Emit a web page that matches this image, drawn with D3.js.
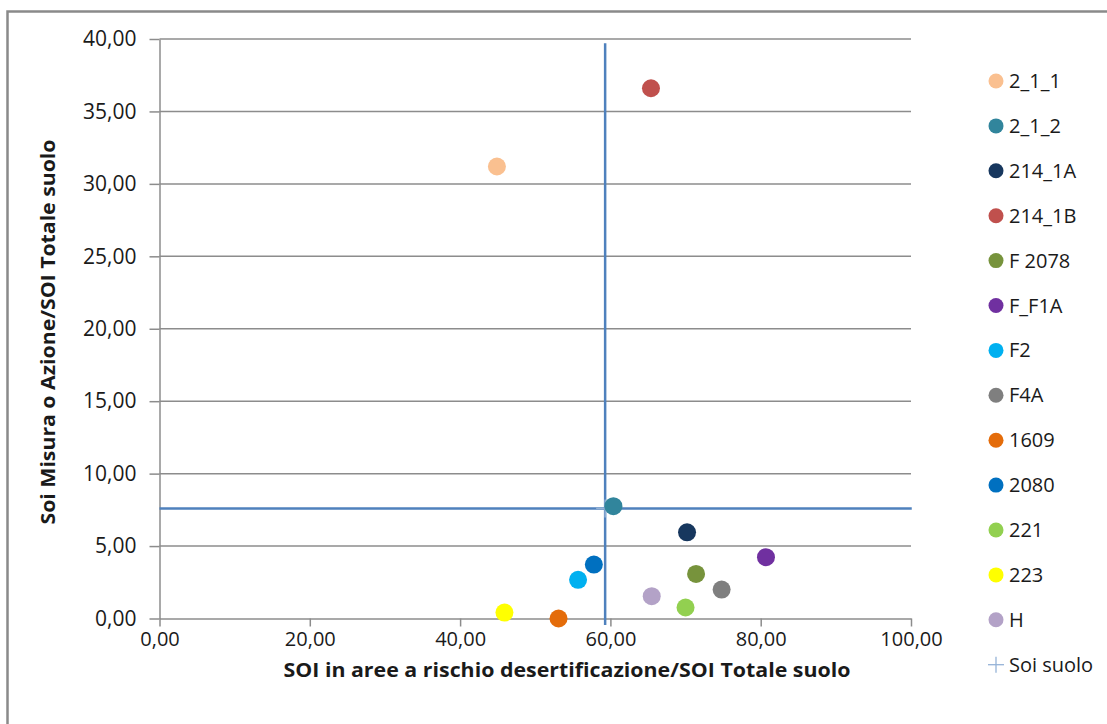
<!DOCTYPE html>
<html>
<head>
<meta charset="utf-8">
<script src="https://cdn.jsdelivr.net/npm/d3@7"></script>
<style>
  html, body { margin: 0; padding: 0; background: #fff; }
  svg { display: block; }
  text { font-family: "Open Sans", "Noto Sans", sans-serif; fill: #1a1a1a; }
</style>
</head>
<body>
<svg id="chart" width="1107" height="724"></svg>
<script>
// Series names, colours and coordinates (x: share of SOI in desertification-risk areas, y: share of SOI per measure)
const seriesNames = ["2_1_1", "2_1_2", "214_1A", "214_1B", "F 2078", "F_F1A", "F2", "F4A", "1609", "2080", "221", "223", "H"];
const seriesColors = ["#FAC090", "#31859C", "#17375E", "#C0504D", "#77933C", "#7030A0", "#00B0F0", "#7F7F7F", "#E46C0A", "#0070C0", "#92D050", "#FFFF00", "#B3A2C7"];
const xValues = [44.9, 60.4, 70.2, 65.4, 71.4, 80.7, 55.7, 74.8, 53.1, 57.8, 70.0, 45.9, 65.5];
const yValues = [31.2, 7.75, 5.95, 36.6, 3.08, 4.23, 2.67, 2.0, 0.0, 3.72, 0.76, 0.41, 1.54];

// "Soi suolo" reference point and the extents of its cross lines
const refName = "Soi suolo";
const refPoint = [59.3, 7.6];
const refXExtent = [0, 100.1];
const refYExtent = [-0.45, 39.7];

// Axis ticks
const xTicks = [0, 20, 40, 60, 80, 100];
const yTicks = [0, 5, 10, 15, 20, 25, 30, 35, 40];
const xTitle = "SOI in aree a rischio desertificazione/SOI Totale suolo";
const yTitle = "Soi Misura o Azione/SOI Totale suolo";

const svg = d3.select("#chart");
const fmt = d3.formatLocale({ decimal: ",", thousands: ".", grouping: [3], currency: ["", "€"] }).format(".2f");

const x = d3.scaleLinear().domain([0, 100]).range([159.5, 911]);
const y = d3.scaleLinear().domain([0, 40]).range([618.5, 39]);

const gridColor = "#8c8c8c";

// Outer frame
svg.append("rect")
  .attr("x", 7.5).attr("y", 11.5)
  .attr("width", 1120).attr("height", 730)
  .attr("fill", "none").attr("stroke", "#8a8a8a").attr("stroke-width", 2.5);

// Horizontal gridlines
svg.append("g").selectAll("line").data(yTicks.filter(d => d > 0)).join("line")
  .attr("x1", x(0)).attr("x2", x(100))
  .attr("y1", d => y(d)).attr("y2", d => y(d))
  .attr("stroke", gridColor).attr("stroke-width", 1.5);

// Y axis
const yAxis = svg.append("g")
  .attr("transform", `translate(${x(0)},0)`)
  .call(d3.axisLeft(y).tickValues(yTicks).tickFormat(fmt).tickSize(10).tickSizeOuter(0).tickPadding(13));
yAxis.select(".domain").attr("stroke", gridColor).attr("stroke-width", 1.5);
yAxis.selectAll(".tick line").attr("stroke", gridColor).attr("stroke-width", 1.5);
yAxis.selectAll(".tick text").attr("font-size", 21).attr("font-family", "'Open Sans', sans-serif").attr("fill", "#1a1a1a");

// X axis
const xAxis = svg.append("g")
  .attr("transform", `translate(0,${y(0)})`)
  .call(d3.axisBottom(x).tickValues(xTicks).tickFormat(fmt).tickSize(8).tickSizeOuter(0).tickPadding(5));
xAxis.select(".domain").attr("stroke", gridColor).attr("stroke-width", 1.5);
xAxis.selectAll(".tick line").attr("stroke", gridColor).attr("stroke-width", 1.5);
xAxis.selectAll(".tick text").attr("font-size", 20).attr("font-family", "'Open Sans', sans-serif").attr("fill", "#1a1a1a");

// Axis titles
svg.append("text")
  .attr("x", 567).attr("y", 677)
  .attr("text-anchor", "middle")
  .attr("font-size", 19).attr("font-weight", "bold")
  .attr("textLength", 567).attr("lengthAdjust", "spacingAndGlyphs")
  .text(xTitle);

svg.append("text")
  .attr("transform", "translate(55,332) rotate(-90)")
  .attr("text-anchor", "middle")
  .attr("font-size", 20).attr("font-weight", "bold")
  .attr("textLength", 385).attr("lengthAdjust", "spacingAndGlyphs")
  .text(yTitle);

// Reference cross lines
const refColor = "#4F81BD";
svg.append("line")
  .attr("x1", x(refPoint[0])).attr("x2", x(refPoint[0]))
  .attr("y1", y(refYExtent[0])).attr("y2", y(refYExtent[1]))
  .attr("stroke", refColor).attr("stroke-width", 2.5);
svg.append("line")
  .attr("x1", x(refXExtent[0])).attr("x2", x(refXExtent[1]))
  .attr("y1", y(refPoint[1])).attr("y2", y(refPoint[1]))
  .attr("stroke", refColor).attr("stroke-width", 2.5);
// "+" marker
const plus = (g, cx, cy, s, w) => {
  g.append("line").attr("x1", cx - s).attr("x2", cx + s).attr("y1", cy).attr("y2", cy)
    .attr("stroke", "#95B3D7").attr("stroke-width", w);
  g.append("line").attr("x1", cx).attr("x2", cx).attr("y1", cy - s).attr("y2", cy + s)
    .attr("stroke", "#95B3D7").attr("stroke-width", w);
};
plus(svg.append("g"), x(refPoint[0]), y(refPoint[1]), 9, 1.5);

// Scatter points
const points = seriesNames.map((n, i) => ({ name: n, color: seriesColors[i], x: xValues[i], y: yValues[i] }));
svg.append("g").selectAll("circle").data(points).join("circle")
  .attr("cx", d => x(d.x)).attr("cy", d => y(d.y))
  .attr("r", 9)
  .attr("fill", d => d.color);

// Legend
const legend = svg.append("g");
const rowY = i => 81 + i * 44.9;
legend.selectAll("circle").data(points).join("circle")
  .attr("cx", 996).attr("cy", (d, i) => rowY(i))
  .attr("r", 7.5).attr("fill", d => d.color);
legend.selectAll("text").data(points.map(d => d.name).concat([refName])).join("text")
  .attr("x", 1009).attr("y", (d, i) => rowY(i))
  .attr("dy", "0.35em")
  .attr("font-size", 20)
  .text(d => d);
plus(legend.append("g"), 996, rowY(seriesNames.length), 8, 1.3);
</script>
</body>
</html>
